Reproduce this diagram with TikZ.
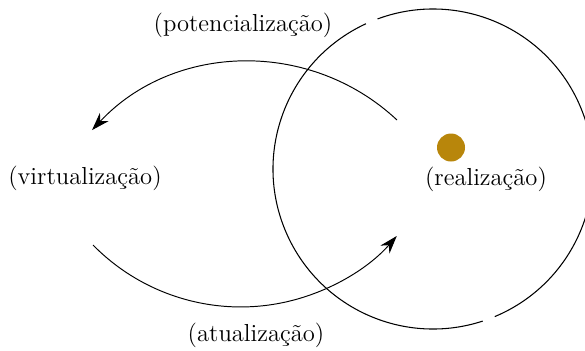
\documentclass[tikz,border=0pt]{standalone}
\usepackage{tikz}
\usetikzlibrary{arrows.meta,positioning,calc}
\definecolor{ouro}{RGB}{184,134,11}

\begin{document}
\begin{tikzpicture}[>={Stealth[length=0.36cm,width=0.24cm]}, line width=0.6pt]
    \tikzset{
        rotulo/.style={anchor=base, inner sep=0pt, font=\fontsize{14}{17}\selectfont},
        seta/.style={draw, ->, line width=0.55pt},
        esfera/.style={draw, line width=0.6pt}
    }
    \clip (0,0) rectangle (11.7,7);
    \coordinate (centro) at (8.66,3.62);
    \node [circle, fill=ouro, minimum size=0.56cm, inner sep=0pt] (ponto) at (9.02,4.05) {};

    \node [rotulo] (potencial) at (4.86,6.38) {(potencialização)};
    \node [rotulo] (virtual) at (1.70,3.32) {(virtualização)};
    \node [rotulo] (real) at (9.72,3.30) {(realização)};
    \node [rotulo] (atual) at (5.12,0.17) {(atualização)};

    % the circle, in two halves with small gaps
    \draw [esfera] ($(centro)+(114.8:3.2)$) arc[start angle=114.8, end angle=288.1, radius=3.2];
    \draw [esfera] ($(centro)+(292.7:3.2)$) arc[start angle=292.7, end angle=470.3, radius=3.2];

    \coordinate (de_real) at (7.94,4.60);
    \coordinate (de_virtual) at (1.86,2.10);
    \path [seta] (de_real) arc[start angle=46.9, end angle=136.9, radius=4.316];
    \path [seta] (de_virtual) arc[start angle=224.5, end angle=318.9, radius=4.142];
\end{tikzpicture}
\end{document}
